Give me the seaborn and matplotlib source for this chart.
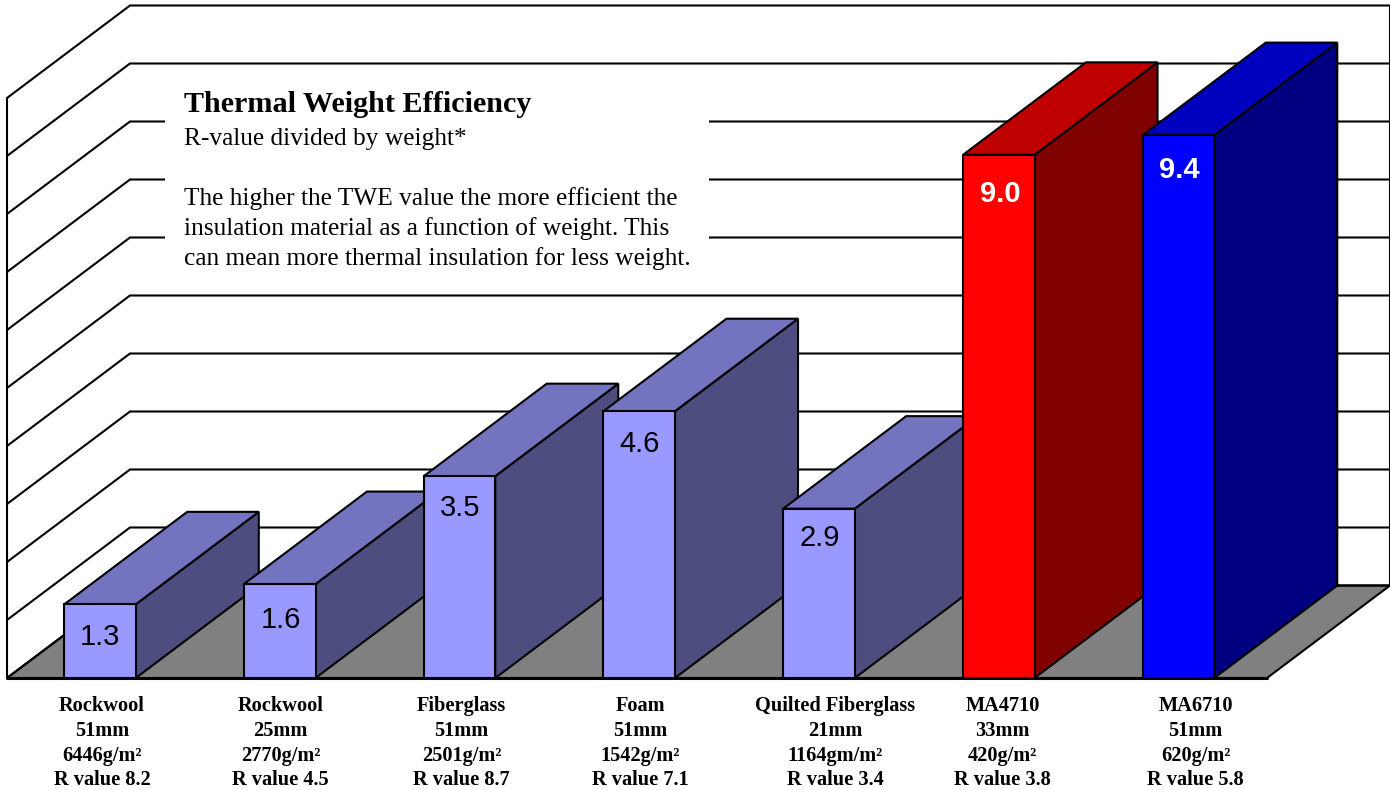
import matplotlib
matplotlib.use("Agg")
import matplotlib.pyplot as plt
import pandas as pd
import seaborn as sns
from matplotlib.patches import Polygon, Rectangle
from matplotlib.transforms import ScaledTranslation

materials = ["Rockwool", "Rockwool", "Fiberglass", "Foam", "Quilted Fiberglass", "MA4710", "MA6710"]
thickness = ["51mm", "25mm", "51mm", "51mm", "21mm", "33mm", "51mm"]
weights = ["6446g/m²", "2770g/m²", "2501g/m²", "1542g/m²", "1164gm/m²", "420g/m²", "620g/m²"]
r_values = ["8.2", "4.5", "8.7", "7.1", "3.4", "3.8", "5.8"]
twe = [1.27, 1.62, 3.48, 4.60, 2.92, 9.02, 9.36]
front_colors = ["#9999FF"] * 5 + ["#FF0000", "#0000FF"]
top_colors = ["#7373BF"] * 5 + ["#BF0000", "#0000BF"]
side_colors = ["#4D4D80"] * 5 + ["#800000", "#000080"]
label_colors = ["black"] * 5 + ["white", "white"]
label_weights = ["normal"] * 5 + ["bold", "bold"]
label_drop_px = [33, 36, 32, 33, 29, 39, 35]
label_shift_px = [0, 1, 1, 0, 1, 2, 1]
tick_shift_px = [2, 1, 2, 1, 16, 4, 17]
grid_levels = list(range(0, 11))

W, H = 1390, 790
sns.set_theme(style="white")
plt.rcParams["font.family"] = ["Liberation Serif", "DejaVu Sans"]

labels = [f"{m}\n{t}\n{w}\nR value {r}" for m, t, w, r in zip(materials, thickness, weights, r_values)]
df = pd.DataFrame({"label": labels, "twe": twe})

fig = plt.figure(figsize=(W / 100, H / 100), dpi=100)
ax = fig.add_axes([7 / W, (H - 678) / H, (1267 - 7) / W, (678 - 98) / H])
sns.barplot(data=df, x="label", y="twe", hue="label", palette=front_colors, dodge=False, saturation=1,
            width=0.398, legend=False, errorbar=None, ax=ax, edgecolor="black", linewidth=1.5)

x0, x1 = (7 - 100.0) / 179.75, (1267 - 100.0) / 179.75
ax.set_xlim(x0, x1)
ax.set_ylim(0, 10)
dx, dy = 123 / 179.75, 92.5 / 58
sns.despine(ax=ax, left=True, bottom=True, top=True, right=True)
ax.set_xlabel("")
ax.set_ylabel("")
ax.set_yticks([])
ax.patch.set_alpha(0)

# floor and walls
ax.add_patch(Polygon([(x0, 0), (x1, 0), (x1 + dx, dy), (x0 + dx, dy)], closed=True, facecolor="#808080",
                     edgecolor="black", lw=1.5, clip_on=False, zorder=1))
for lvl in grid_levels:
    ax.plot([x0, x0 + dx, x1 + dx], [lvl, lvl + dy, lvl + dy], color="black", lw=1.5,
            clip_on=False, zorder=2, solid_joinstyle="miter")
ax.plot([x0, x0], [0, 10], color="black", lw=1.5, clip_on=False, zorder=2)
ax.plot([x1 + dx, x1 + dx], [dy, 10 + dy], color="black", lw=1.5, clip_on=False, zorder=2)
ax.plot([x0, x1], [0, 0], color="black", lw=2.2, clip_on=False, zorder=2.5)

# white panel behind the note
ax.add_patch(Rectangle(((165 - 100.0) / 179.75, (678 - 282) / 58), 544 / 179.75, 212 / 58,
                       facecolor="white", edgecolor="none", clip_on=False, zorder=3))

# 3D bars
for i, cont in enumerate(ax.containers):
    bar = cont[0]
    l, w, h = bar.get_x(), bar.get_width(), bar.get_height()
    r = l + w
    bar.set_zorder(10 + i + 0.5)
    bar.set_clip_on(False)
    ax.add_patch(Polygon([(r, 0), (r + dx, dy), (r + dx, h + dy), (r, h)], closed=True,
                         facecolor=side_colors[i], edgecolor="black", lw=1.5, clip_on=False, zorder=10 + i))
    ax.add_patch(Polygon([(l, h), (r, h), (r + dx, h + dy), (l + dx, h + dy)], closed=True,
                         facecolor=top_colors[i], edgecolor="black", lw=1.5, clip_on=False, zorder=10 + i))
    ax.annotate(f"{twe[i]:.1f}", xy=(l + w / 2, h), xytext=(label_shift_px[i] * 0.72, -label_drop_px[i] * 0.72),
                textcoords="offset points", ha="center", va="center", fontsize=21,
                family=["Liberation Sans"], color=label_colors[i], fontweight=label_weights[i], zorder=30)

# category labels
ax.tick_params(axis="x", length=0, pad=13)
ax.set_xticks(range(len(labels)))
ax.set_xticklabels(labels, fontweight="bold", fontsize=14.7, linespacing=1.32, color="black")
for tl, s in zip(ax.get_xticklabels(), tick_shift_px):
    tl.set_transform(tl.get_transform() + ScaledTranslation(s / 100, 0, fig.dpi_scale_trans))

# note text
def note(px, py, s, **kw):
    fig.text(px / W, 1 - py / H, s, ha="left", va="center", color="black", zorder=40, **kw)

note(184, 104, "Thermal Weight Efficiency", fontsize=21.7, fontweight="bold")
note(184, 139, "R-value divided by weight*", fontsize=18.3)
note(184, 199, "The higher the TWE value the more efficient the", fontsize=18.3)
note(184, 229, "insulation material as a function of weight. This", fontsize=18.3)
note(184, 259, "can mean more thermal insulation for less weight.", fontsize=18.3)

fig.savefig("out.png", dpi=100, facecolor="white")
